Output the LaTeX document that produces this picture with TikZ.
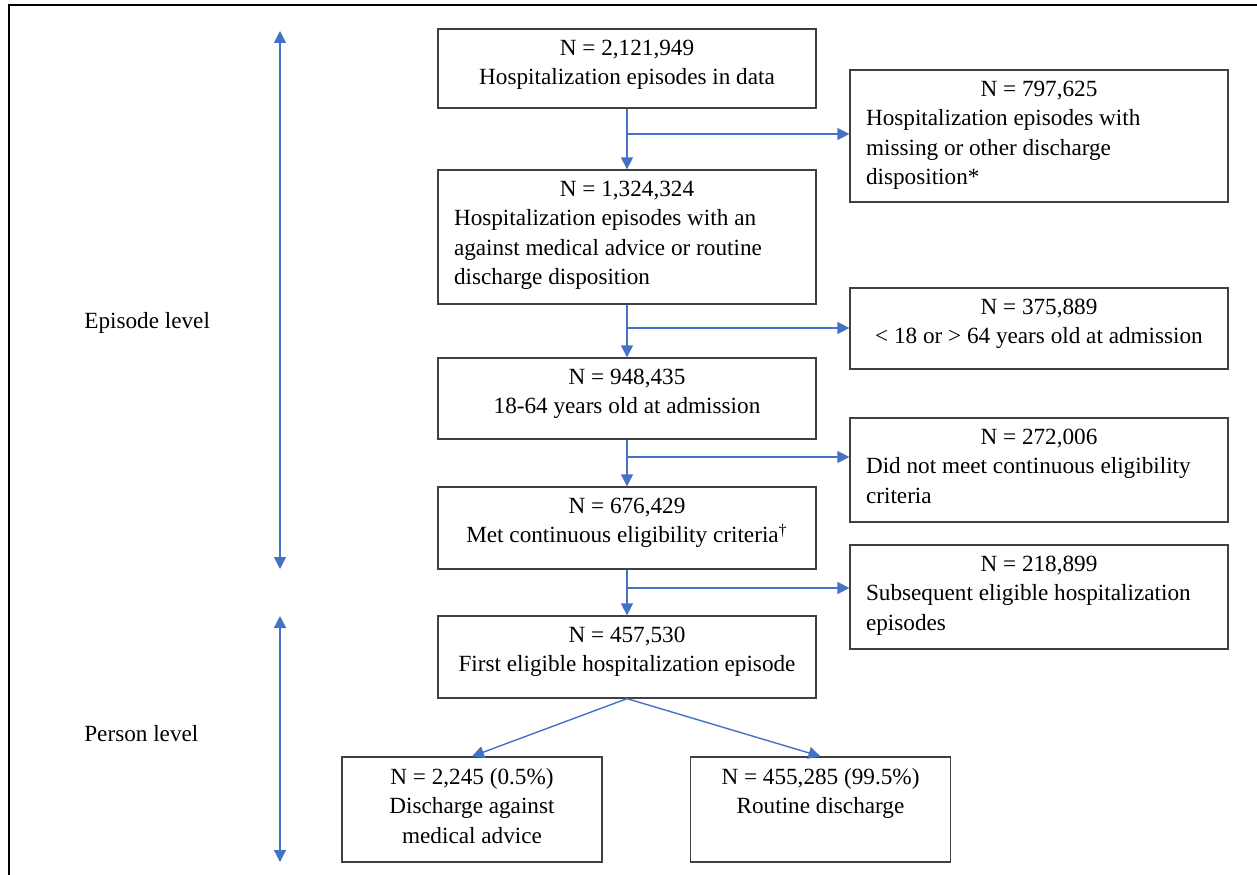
\documentclass[tikz,border=0pt]{standalone}
\usepackage{fontspec}
\setmainfont{Liberation Serif}
\usepackage{tikz}
\usetikzlibrary{arrows.meta,positioning,calc}
\definecolor{flowblue}{RGB}{68,114,196}
\newcommand{\boxtext}[3]{\parbox[c][#2][t]{#1}{\vspace*{2.2mm}#3}}
\tikzset{
    stage/.style={
        rectangle,
        draw=black!75,
        line width=0.75pt,
        inner xsep=3.2mm,
        inner ysep=0pt,
    },
    flow/.style={
        draw=flowblue,
        line width=0.8pt,
        -{Triangle[length=2.4mm,width=2.4mm]},
    },
    span/.style={
        draw=flowblue,
        line width=0.8pt,
        {Triangle[length=2.4mm,width=2.4mm]}-{Triangle[length=2.4mm,width=2.4mm]},
    },
    level/.style={
        anchor=west,
        inner sep=0pt,
    },
    every node/.style={
        font=\fontsize{13.2}{16.8}\selectfont
    },
}

\begin{document}
\begin{tikzpicture}[x=0.02cm,y=-0.02cm]
    \useasboundingbox (0,0) rectangle (1257,875);
    \draw[line width=1.4pt] (9,875) -- (9,5) -- (1257,5);

    % main stages
    \node [stage] (S1) at (627,68.5) {\boxtext{69.2mm}{15.8mm}{\centering N = 2,121,949\\ Hospitalization episodes in data}};
    \node [stage] (S2) at (627,237) {\boxtext{69.2mm}{26.8mm}{\centering N = 1,324,324\par\raggedright Hospitalization episodes with an\\ against medical advice or routine\\ discharge disposition}};
    \node [stage] (S3) at (627,398.5) {\boxtext{69.2mm}{16.2mm}{\centering N = 948,435\\ 18-64 years old at admission}};
    \node [stage] (S4) at (627,528) {\boxtext{69.2mm}{16.4mm}{\centering N = 676,429\\ Met continuous eligibility criteria\textsuperscript{\dag}}};
    \node [stage] (S5) at (627,657) {\boxtext{69.2mm}{16.4mm}{\centering N = 457,530\\ First eligible hospitalization episode}};

    % excluded
    \node [stage] (X1) at (1039,136) {\boxtext{69.2mm}{26.4mm}{\centering N = 797,625\par\raggedright Hospitalization episodes with\\ missing or other discharge\\ disposition*}};
    \node [stage] (X2) at (1039,328.5) {\boxtext{69.2mm}{16.2mm}{\centering N = 375,889\\ {<} 18 or {>} 64 years old at admission}};
    \node [stage] (X3) at (1039,470) {\boxtext{69.2mm}{20.8mm}{\centering N = 272,006\par\raggedright Did not meet continuous eligibility\\ criteria}};
    \node [stage] (X4) at (1039,597) {\boxtext{69.2mm}{20.8mm}{\centering N = 218,899\par\raggedright Subsequent eligible hospitalization\\ episodes}};

    % outcome
    \node [stage] (D1) at (472,809.5) {\boxtext{45.6mm}{21mm}{\centering N = 2,245 (0.5\%)\\ Discharge against\\ medical advice}};
    \node [stage] (D2) at (820.5,809.5) {\boxtext{45.6mm}{21mm}{\centering N = 455,285 (99.5\%)\\ Routine discharge}};

    \draw[flow] (S1) -- (S2);
    \draw[flow] (S2) -- (S3);
    \draw[flow] (S3) -- (S4);
    \draw[flow] (S4) -- (S5);
    \coordinate (B1) at (627,134);
    \coordinate (B2) at (627,328);
    \coordinate (B3) at (627,457);
    \coordinate (B4) at (627,588);
    \draw[flow] (B1) -- (B1 -| X1.west);
    \draw[flow] (B2) -- (B2 -| X2.west);
    \draw[flow] (B3) -- (B3 -| X3.west);
    \draw[flow] (B4) -- (B4 -| X4.west);
    \draw[flow] (S5.south) -- (D1.north);
    \draw[flow] (S5.south) -- (D2.north);

    % levels
    \coordinate (E1) at (280,31);
    \coordinate (E2) at (280,569);
    \coordinate (P1) at (280,616);
    \coordinate (P2) at (280,862);
    \draw[span] (E1) -- (E2);
    \draw[span] (P1) -- (P2);
    \node [level] (EL) at (84,323) {Episode level};
    \node [level] (PL) at (84,734) {Person level};
\end{tikzpicture}
\end{document}
